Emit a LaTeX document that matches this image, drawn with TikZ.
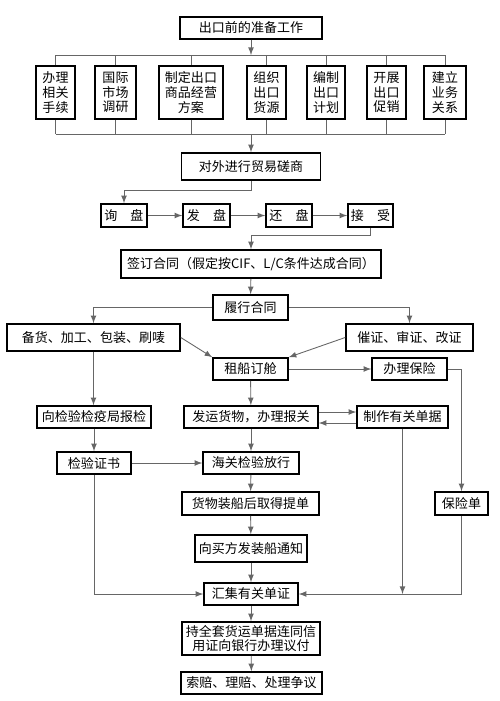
\documentclass[tikz,border=0pt]{standalone}
\usepackage{fontspec}
\newfontfamily\cjk{Noto Sans CJK SC}
\usetikzlibrary{arrows,positioning,calc}

\begin{document}
\begin{tikzpicture}[x=0.02cm,y=-0.02cm,
  box/.style={draw,line width=0.9pt,inner sep=0pt,align=center,
    font=\cjk\fontsize{7.4}{8.4}\selectfont},
  sz/.style 2 args={minimum width=#1*0.02cm,minimum height=#2*0.02cm},
  link/.style={draw=black!60,line width=0.5pt},
  >=latex]
  \useasboundingbox (0,0) rectangle (500,701);
  % preparation before export
  \node[box,sz={142}{22}] (prep) at (251,28) {出口前的准备工作};
  \node[box,sz={39}{53}] (p1) at (55.5,92.5) {办理\\相关\\手续};
  \node[box,sz={41}{53}] (p2) at (115.5,92.5) {国际\\市场\\调研};
  \node[box,sz={64}{53}] (p3) at (191,92.5) {制定出口\\商品经营\\方案};
  \node[box,sz={39}{53}] (p4) at (266.5,92.5) {组织\\出口\\货源};
  \node[box,sz={38}{53}] (p5) at (326,92.5) {编制\\出口\\计划};
  \node[box,sz={39}{53}] (p6) at (386.5,92.5) {开展\\出口\\促销};
  \node[box,sz={42}{53}] (p7) at (445,92.5) {建立\\业务\\关系};
  \coordinate (busT) at (251,55);
  \coordinate (busB) at (251,134);
  \draw[link,->] (prep) -- (busT);
  \draw[link] (p1.north |- busT) -- (p7.north |- busT);
  \draw[link] (p1.south |- busB) -- (p7.south |- busB);
  \foreach \p in {p1,p2,p3,p4,p5,p6,p7}{
    \draw[link] (\p.north) -- (\p.north |- busT);
    \draw[link] (\p.south) -- (\p.south |- busB);
  }
  % negotiation
  \node[box,sz={139}{27}] (talk) at (251,166.5) {对外进行贸易磋商};
  \draw[link,->] (busB) -- (talk);
  \node[box,sz={46}{23}] (q1) at (124,215.5) {询\hspace{1em}盘};
  \node[box,sz={47}{23}] (q2) at (206.5,215.5) {发\hspace{1em}盘};
  \node[box,sz={46}{23}] (q3) at (289,215.5) {还\hspace{1em}盘};
  \node[box,sz={45}{23}] (q4) at (370.5,215.5) {接\hspace{1em}受};
  \draw[link,->] (talk.south) -- ++(0,10) -| (q1.north);
  \draw[link,->] (q1) -- (q2);
  \draw[link,->] (q2) -- (q3);
  \draw[link,->] (q3) -- (q4);
  \node[box,sz={260}{28}] (sign) at (251,264) {签订合同（假定按CIF、L/C条件达成合同）};
  \draw[link,->] (q4.south) -- ++(0,8) -| (sign.north);
  % performance
  \node[box,sz={75}{25}] (perf) at (250.5,307.5) {履行合同};
  \draw[link,->] (sign) -- (perf);
  \node[box,sz={173}{27}] (goods) at (93.5,337.5) {备货、加工、包装、刷唛};
  \node[box,sz={127}{27}] (lc) at (409.5,337.5) {催证、审证、改证};
  \draw[link,->] (perf.west) -| (goods.north);
  \draw[link,->] (perf.east) -| (lc.north);
  \node[box,sz={75}{22}] (ship) at (250.5,369) {租船订舱};
  \node[box,sz={75}{22}] (ins) at (409.5,369) {办理保险};
  \draw[link,->] (goods.east) -- (ship.north west);
  \draw[link,->] (lc.west) -- (ship.north east);
  \draw[link,->] (ship) -- (ins);
  \node[box,sz={114}{22}] (insp) at (94,417) {向检验检疫局报检};
  \node[box,sz={134}{22}] (send) at (251,417) {发运货物，办理报关};
  \node[box,sz={91}{22}] (docs) at (402.5,417) {制作有关单据};
  \draw[link,->] (goods.south) -- (goods.south |- insp.north);
  \draw[link,->] (ship) -- (send);
  \draw[link,->] ($(send.east)+(0,-5)$) -- ($(docs.west)+(0,-5)$);
  \draw[link,->] ($(docs.west)+(0,6)$) -- ($(send.east)+(0,6)$);
  \node[box,sz={74}{22}] (cert) at (94,463) {检验证书};
  \node[box,sz={96}{22}] (cust) at (251,463) {海关检验放行};
  \draw[link,->] (insp) -- (cert);
  \draw[link,->] (cert) -- (cust);
  \draw[link,->] (send) -- (cust);
  \node[box,sz={137}{23}] (bl) at (250.5,503.5) {货物装船后取得提单};
  \node[box,sz={53}{23}] (policy) at (461.5,503.5) {保险单};
  \draw[link,->] (cust) -- (bl);
  \draw[link,->] (ins.east) -| (policy.north);
  \node[box,sz={112}{27}] (note) at (251,548.5) {向买方发装船通知};
  \draw[link,->] (bl) -- (note);
  % documents and payment
  \node[box,sz={94}{22}] (coll) at (251,594) {汇集有关单证};
  \draw[link,->] (note) -- (coll);
  \draw[link,->] (cert.south) |- (coll.west);
  \draw[link,->] (policy.south) |- (coll.east);
  \draw[link,->] (docs.south) -- (docs.south |- coll.east);
  \node[box,sz={138}{33}] (pay) at (251,638.5) {持全套货运单据连同信\\用证向银行办理议付};
  \node[box,sz={141}{22}] (claim) at (251.5,683) {索赔、理赔、处理争议};
  \draw[link,->] (coll) -- (pay);
  \draw[link,->] (pay) -- (claim);
\end{tikzpicture}
\end{document}
